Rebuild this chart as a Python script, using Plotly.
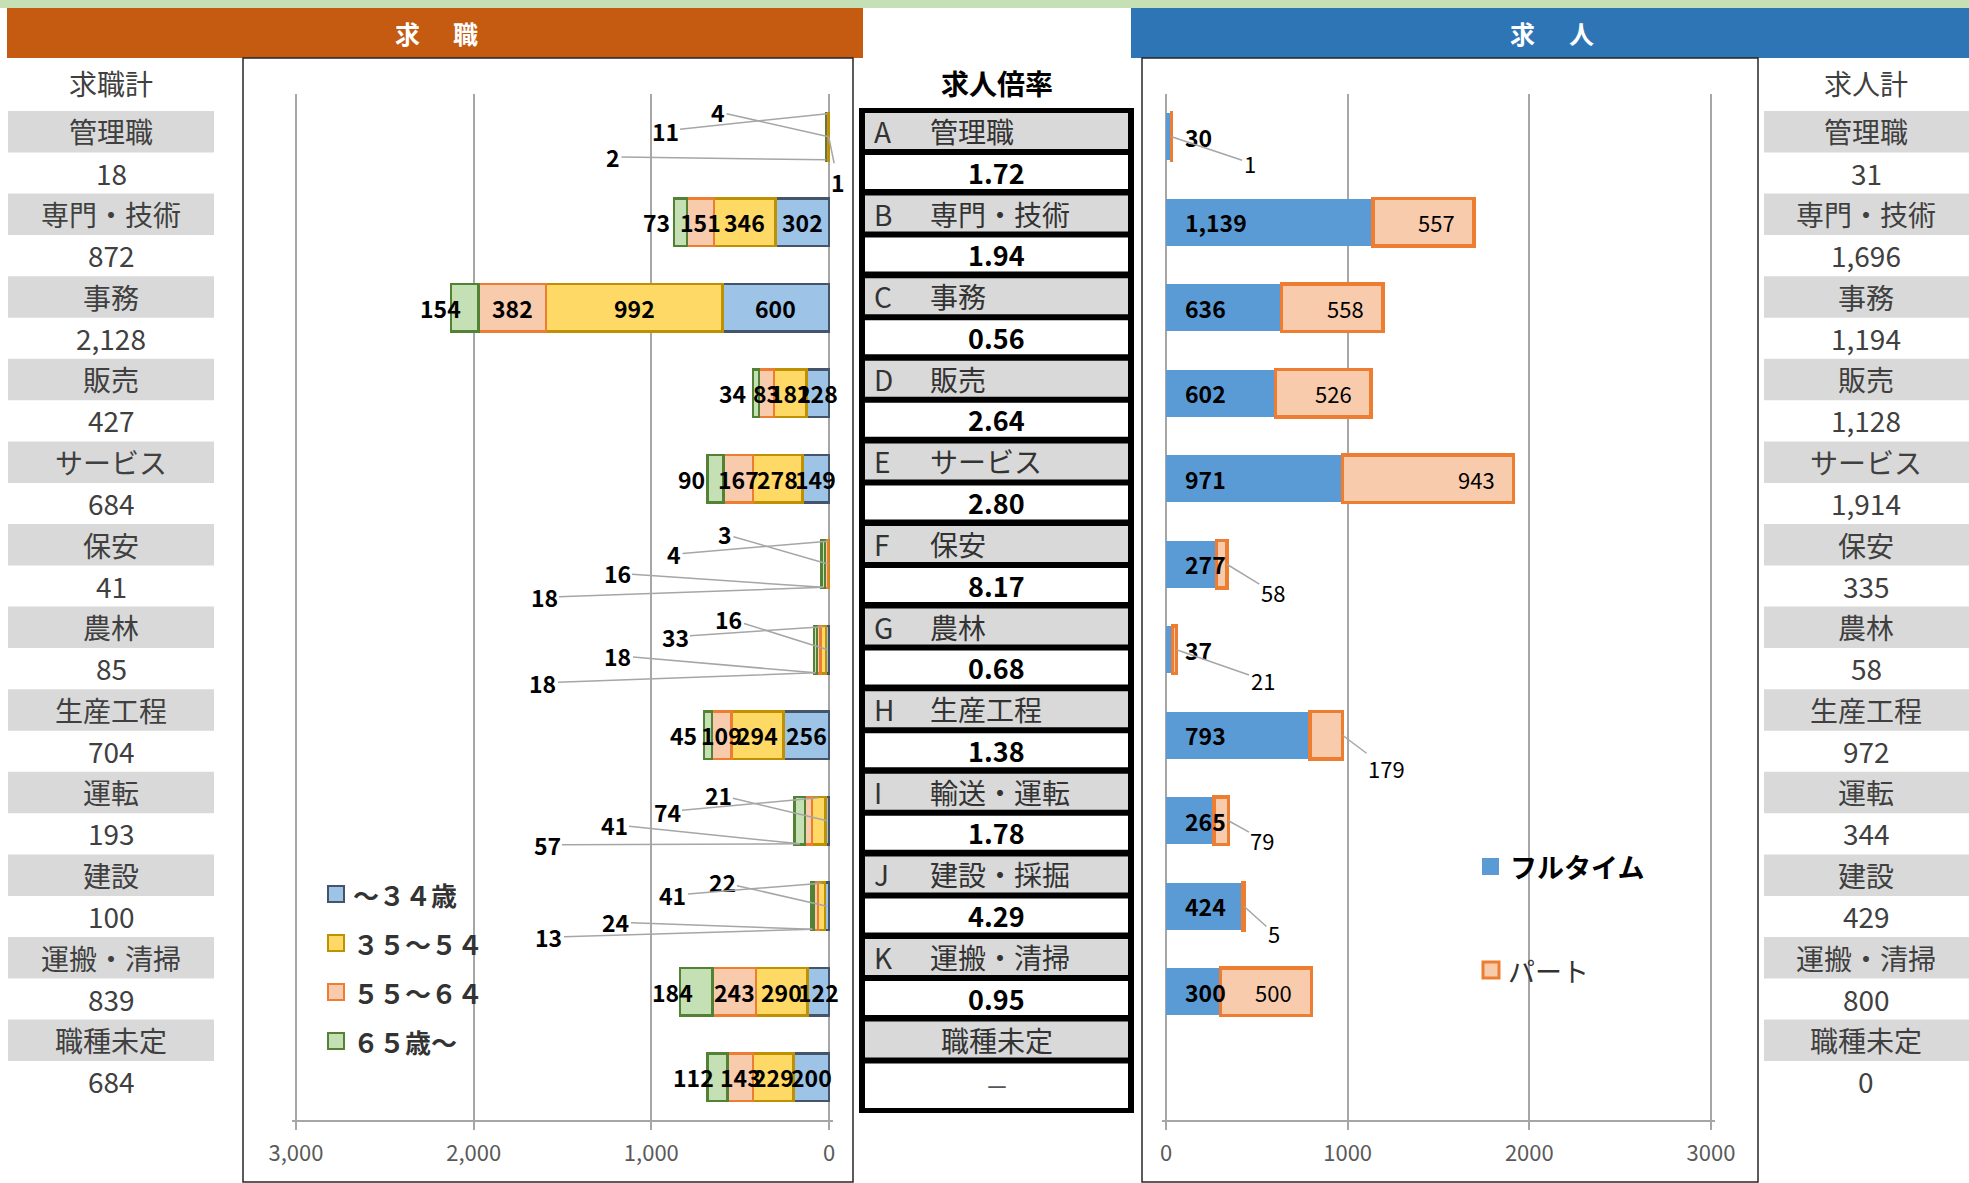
import plotly.graph_objects as go

W, H = 1969, 1183

# ---------------- data ----------------
categories = ["管理職", "専門・技術", "事務", "販売", "サービス", "保安", "農林",
              "生産工程", "運転", "建設", "運搬・清掃", "職種未定"]
ratio_codes = ["A", "B", "C", "D", "E", "F", "G", "H", "I", "J", "K", ""]
ratio_names = ["管理職", "専門・技術", "事務", "販売", "サービス", "保安", "農林",
               "生産工程", "輸送・運転", "建設・採掘", "運搬・清掃", "職種未定"]
ratio_values = ["1.72", "1.94", "0.56", "2.64", "2.80", "8.17", "0.68", "1.38",
                "1.78", "4.29", "0.95", "－"]

age_groups = ["～３４歳", "３５～５４", "５５～６４", "６５歳～"]
seek_u34 = [4, 302, 600, 128, 149, 3, 16, 256, 21, 22, 122, 200]
seek_35_54 = [11, 346, 992, 182, 278, 4, 33, 294, 74, 41, 290, 229]
seek_55_64 = [2, 151, 382, 83, 167, 16, 18, 109, 41, 24, 243, 143]
seek_65 = [1, 73, 154, 34, 90, 18, 18, 45, 57, 13, 184, 112]
seek_total = [18, 872, 2128, 427, 684, 41, 85, 704, 193, 100, 839, 684]

offer_names = ["フルタイム", "パート"]
offer_full = [30, 1139, 636, 602, 971, 277, 37, 793, 265, 424, 300, 0]
offer_part = [1, 557, 558, 526, 943, 58, 21, 179, 79, 5, 500, 0]
offer_total = [31, 1696, 1194, 1128, 1914, 335, 58, 972, 344, 429, 800, 0]

left_ticks = [0, 1000, 2000, 3000]
left_ticktext = ["0", "1,000", "2,000", "3,000"]
right_ticks = [0, 1000, 2000, 3000]
right_ticktext = ["0", "1000", "2000", "3000"]

# ---------------- styles / layout constants ----------------
seek_fill = ["#9DC3E6", "#FFD966", "#F8CBAD", "#C5E0B4"]
seek_edge = ["#44546A", "#BF9000", "#ED7D31", "#548235"]
FULL_FILL = "#5B9BD5"
PART_FILL = "#F8CBAD"
PART_EDGE = "#ED7D31"
LEADER = "#A6A6A6"
TXT = "#404040"
FONT = "Noto Sans CJK JP"


def px(x):
    return x / W


def py(y):
    return 1 - y / H


LEFT_X3000, LEFT_X0 = 296, 829
RIGHT_X0, RIGHT_X3000 = 1166, 1711
PLOT_TOP, PLOT_BOT = 94, 1120
PAD = 20
sxl = (LEFT_X0 - LEFT_X3000) / 3000
sxr = (RIGHT_X3000 - RIGHT_X0) / 3000
sy = (PLOT_BOT - PLOT_TOP) / 12
BAR_W = 0.55
EDGE = BAR_W / 2 - 0.005

# leader label placement (pixel offsets from zero-line / bar centre), by row
left_leader_pos = {
    0: [(-111, -25), (-164, -6), (-216, 20), (9, 45)],
    5: [(-104, -30), (-155, -10), (-212, 9), (-285, 33)],
    6: [(-100, -31), (-154, -13), (-211, 6), (-286, 33)],
    8: [(-111, -26), (-162, -9), (-215, 4), (-282, 24)],
    9: [(-107, -24), (-156, -11), (-213, 16), (-280, 31)],
}
# (segment whose midpoint is targeted, vertical edge: -1 top, 0 mid, 1 bottom)
left_leader_target = {
    0: [(0, 0), (1, -1), (3, 1), (0, 0)],
}
default_target = [(0, 0), (1, -1), (3, 1), (3, 1)]
right_leader_pos = {0: (78, 26), 5: (46, 28), 6: (86, 30), 7: (44, 33),
                    8: (34, 19), 9: (30, 27)}

annotations = []
shapes = []


def text(x, y, s, size, color=TXT, bold=False, xanchor="center"):
    annotations.append(dict(
        xref="paper", yref="paper", x=px(x), y=py(y),
        text=f"<b>{s}</b>" if bold else s, showarrow=False,
        xanchor=xanchor, yanchor="middle",
        font=dict(size=size, color=color, family=FONT)))


def rect(x0, y0, x1, y1, fill=None, line=None, lw=0, layer="above"):
    shapes.append(dict(
        type="rect", xref="paper", yref="paper",
        x0=px(x0), x1=px(x1), y0=py(y1), y1=py(y0),
        fillcolor=fill if fill else "rgba(0,0,0,0)",
        line=dict(color=line if line else "rgba(0,0,0,0)", width=lw),
        layer=layer))


# ---------------- figure ----------------
fig = go.Figure()
rows = list(range(len(categories)))
seek_series = [seek_u34, seek_35_54, seek_55_64, seek_65]

for k, vals in enumerate(seek_series):
    fig.add_trace(go.Bar(
        y=rows, x=vals, orientation="h", width=BAR_W, name=age_groups[k],
        marker=dict(color=seek_fill[k], line=dict(color=seek_edge[k], width=2.5)),
        xaxis="x", yaxis="y", showlegend=False, hoverinfo="skip"))

fig.add_trace(go.Bar(
    y=rows, x=[v if v else None for v in offer_full], orientation="h", width=BAR_W,
    name=offer_names[0], marker=dict(color=FULL_FILL, line=dict(width=0)),
    xaxis="x2", yaxis="y2", showlegend=False, hoverinfo="skip"))
fig.add_trace(go.Bar(
    y=rows, x=[v if v else None for v in offer_part], orientation="h", width=BAR_W,
    name=offer_names[1], marker=dict(color=PART_FILL, line=dict(color=PART_EDGE, width=3.5)),
    xaxis="x2", yaxis="y2", showlegend=False, hoverinfo="skip"))

# ---- left bar labels ----
for i in rows:
    cum = 0
    mids = []
    for k in range(4):
        v = seek_series[k][i]
        mids.append(cum + v / 2)
        cum += v
    if i in left_leader_pos:
        targets = left_leader_target.get(i, default_target)
        for k in range(4):
            dx, dy = left_leader_pos[i][k]
            seg, edge = targets[k]
            tx = -mids[seg] * sxl
            ty = edge * EDGE * sy
            annotations.append(dict(
                xref="x", yref="y", x=mids[seg], y=i + edge * EDGE,
                ax=dx - tx, ay=dy - ty, text=f"<b>{seek_series[k][i]}</b>",
                showarrow=True, arrowhead=0, arrowwidth=1.5, arrowcolor=LEADER,
                standoff=0, startstandoff=0,
                font=dict(size=23, color="#000", family=FONT)))
    else:
        for k in range(4):
            annotations.append(dict(
                xref="x", yref="y", x=mids[k], y=i, text=f"<b>{seek_series[k][i]}</b>",
                showarrow=False, xshift=-24 if k == 3 else 0,
                font=dict(size=23, color="#000", family=FONT)))

# ---- right bar labels ----
for i in rows:
    if offer_full[i]:
        annotations.append(dict(
            xref="x2", yref="y2", x=0, y=i, text=f"<b>{offer_full[i]:,}</b>",
            showarrow=False, xanchor="left", xshift=17,
            font=dict(size=23, color="#000", family=FONT)))
    if offer_part[i]:
        tot = offer_full[i] + offer_part[i]
        if i in right_leader_pos:
            dx, dy = right_leader_pos[i]
            annotations.append(dict(
                xref="x2", yref="y2", x=tot, y=i, ax=dx, ay=dy,
                text=f"{offer_part[i]:,}", showarrow=True, arrowhead=0,
                arrowwidth=1.5, arrowcolor=LEADER, standoff=0, startstandoff=0,
                font=dict(size=22, color="#000", family=FONT)))
        else:
            annotations.append(dict(
                xref="x2", yref="y2", x=tot, y=i, text=f"{offer_part[i]:,}",
                showarrow=False, xanchor="right", xshift=-17,
                font=dict(size=22, color="#000", family=FONT)))

# ---------------- decorations ----------------
rect(0, 0, W, 8, fill="#C5E0B4")
rect(7, 8, 863, 58, fill="#C55A11")
rect(1131, 8, W, 58, fill="#2E75B6")
text(407, 33, "求", 25, "white", bold=True)
text(465, 33, "職", 25, "white", bold=True)
text(1522, 33, "求", 25, "white", bold=True)
text(1581, 33, "人", 25, "white", bold=True)

rect(243, 58, 853, 1182, line="#262626", lw=1.5)
rect(1142, 58, 1758, 1182, line="#262626", lw=1.5)

text(111, 83, "求職計", 28)
text(1866, 83, "求人計", 28)
text(997, 83, "求人倍率", 28, "#000", bold=True)

ROW0, PITCH = 131.5, 82.6
for i, c in enumerate(categories):
    yc = ROW0 + PITCH * i
    rect(8, yc - 20.5, 214, yc + 21, fill="#D9D9D9")
    text(111, yc, c, 28)
    text(111, yc + 41, f"{seek_total[i]:,}", 28)
    rect(1764, yc - 20.5, W, yc + 21, fill="#D9D9D9")
    text(1866, yc, c, 28)
    text(1866, yc + 41, f"{offer_total[i]:,}", 28)

# ratio table
rect(859, 108, 1134, 1113, fill="#000000")
for i in rows:
    g0 = 113 + PITCH * i
    rect(865, g0, 1128, g0 + 36, fill="#D9D9D9")
    w0 = g0 + 42
    w1 = w0 + 34 if i < len(categories) - 1 else 1108
    rect(865, w0, 1128, w1, fill="#FFFFFF")
    if ratio_codes[i]:
        text(872, g0 + 18, ratio_codes[i], 28, "#333", xanchor="left")
        text(928, g0 + 18, ratio_names[i], 28, "#333", xanchor="left")
    else:
        text(997, g0 + 18, ratio_names[i], 28, "#333")
    if ratio_values[i] == "－":
        text(997, (w0 + w1) / 2, ratio_values[i], 24, "#555")
    else:
        text(997, (w0 + w1) / 2, ratio_values[i], 27, "#000", bold=True)

# left legend
for k, name in enumerate(age_groups):
    yc = 894 + 49 * k
    rect(328, yc - 8, 344, yc + 8, fill=seek_fill[k], line=seek_edge[k], lw=2)
    text(351, yc, name, 26, "#333", bold=True, xanchor="left")

# right legend
rect(1482, 858, 1499, 875, fill=FULL_FILL)
text(1508, 866, offer_names[0], 27, "#000", bold=True, xanchor="left")
rect(1483, 962, 1499, 978, fill=PART_FILL, line=PART_EDGE, lw=3)
text(1506, 970, offer_names[1], 27, "#333", xanchor="left")

axis_common = dict(showgrid=True, gridcolor="#A6A6A6", gridwidth=1.5, zeroline=False,
                   showline=True, linecolor="#A6A6A6", linewidth=2, ticks="outside",
                   ticklen=8, tickwidth=2, tickcolor="#A6A6A6", automargin=False,
                   tickfont=dict(size=22, color="#595959", family=FONT),
                   ticklabelstandoff=5, fixedrange=True)

fig.update_layout(
    template="none",
    width=W, height=H, margin=dict(l=0, r=0, t=0, b=0, pad=0, autoexpand=False),
    paper_bgcolor="white", plot_bgcolor="rgba(0,0,0,0)",
    barmode="stack", showlegend=False,
    font=dict(family=FONT, color=TXT),
    xaxis=dict(domain=[px(LEFT_X3000 - PAD * sxl), px(LEFT_X0 + PAD * sxl)],
               range=[3000 + PAD, -PAD], tickvals=left_ticks, ticktext=left_ticktext,
               anchor="y", **axis_common),
    yaxis=dict(domain=[py(PLOT_BOT), py(PLOT_TOP)], range=[11.5, -0.5],
               visible=False, anchor="x", fixedrange=True, automargin=False),
    xaxis2=dict(domain=[px(RIGHT_X0 - PAD * sxr), px(RIGHT_X3000 + PAD * sxr)],
                range=[-PAD, 3000 + PAD], tickvals=right_ticks, ticktext=right_ticktext,
                anchor="y2", **axis_common),
    yaxis2=dict(domain=[py(PLOT_BOT), py(PLOT_TOP)], range=[11.5, -0.5],
                visible=False, anchor="x2", fixedrange=True, automargin=False),
    annotations=annotations, shapes=shapes,
)

fig.write_html("out.html", config={"displayModeBar": False},
               post_script="document.body.style.margin='0';document.body.style.overflow='hidden';")
